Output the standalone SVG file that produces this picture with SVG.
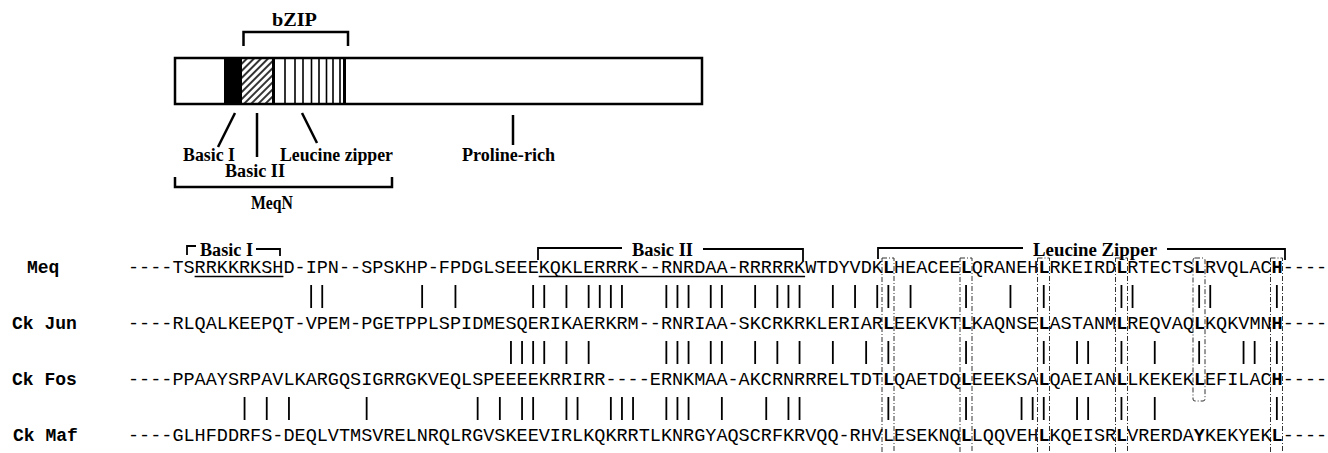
<svg xmlns="http://www.w3.org/2000/svg" width="1328" height="453" viewBox="0 0 1328 453">
<style>
.lbl{font-family:"Liberation Serif","Times New Roman",serif;font-weight:bold;font-size:18px;fill:#000}
.seq{font-family:"Liberation Mono","Courier New",monospace;font-size:18.5px;fill:#000}
.name{font-family:"Liberation Mono","Courier New",monospace;font-size:18px;font-weight:bold;fill:#000}
.b{font-weight:bold}
.ln{stroke:#000;stroke-width:2.5;fill:none}
.br{stroke:#000;stroke-width:1.8;fill:none}
.vl{stroke:#000;stroke-width:1.6}
.bar{stroke:#000;stroke-width:1.8;fill:none}
.hb{stroke:#333;stroke-width:1;fill:none;stroke-dasharray:5 2 1 2}
</style>
<defs>
<pattern id="hatch" patternUnits="userSpaceOnUse" width="5" height="5" patternTransform="rotate(45)">
<rect width="5" height="5" fill="#fff"/>
<line x1="1" y1="0" x2="1" y2="5" stroke="#000" stroke-width="1.6"/>
</pattern>
</defs>
<rect width="1328" height="453" fill="#fff"/>

<g id="protein">
<rect x="175" y="58" width="527" height="46" fill="#fff"/>
<rect x="224" y="58" width="18" height="46" fill="#000"/>
<rect x="242" y="58" width="30" height="46" fill="url(#hatch)"/>
<path class="vl" d="M285 58V104M295 58V104M303 58V104M311.5 58V104M319 58V104M326.5 58V104M333 58V104M340 58V104"/>
<path d="M273.5 58V104M344.5 58V104" stroke="#000" stroke-width="3"/>
<rect x="175" y="58" width="527" height="46" class="ln"/>
</g>

<g id="bzip">
<path class="ln" d="M243.5 46V32H348V46"/>
<text class="lbl" x="272" y="26" textLength="45" lengthAdjust="spacingAndGlyphs">bZIP</text>
</g>

<g id="basic1-label">
<path class="ln" d="M235 113L218 147"/>
<text class="lbl" x="183" y="161" textLength="52" lengthAdjust="spacingAndGlyphs">Basic I</text>
</g>
<g id="basic2-label">
<path class="ln" d="M257 113V157"/>
<text class="lbl" x="225" y="177" textLength="60" lengthAdjust="spacingAndGlyphs">Basic II</text>
</g>
<g id="zipper-label">
<path class="ln" d="M302 113L317 143"/>
<text class="lbl" x="280" y="161" textLength="113" lengthAdjust="spacingAndGlyphs">Leucine zipper</text>
</g>
<g id="proline-label">
<path class="ln" d="M513 115V145"/>
<text class="lbl" x="462" y="161" textLength="93" lengthAdjust="spacingAndGlyphs">Proline-rich</text>
</g>
<g id="meqn">
<path class="ln" d="M175 177V187H392V177"/>
<text class="lbl" x="251" y="209" textLength="42" lengthAdjust="spacingAndGlyphs">MeqN</text>
</g>

<g id="brackets">
<path class="br" d="M187 255V246H196"/>
<path class="br" d="M256 249H280V256"/>
<text class="lbl" x="200" y="256" textLength="53" lengthAdjust="spacingAndGlyphs">Basic I</text>
<path class="br" d="M538 260V248H622"/>
<path class="br" d="M703 249H803V261"/>
<text class="lbl" x="632" y="256" textLength="61" lengthAdjust="spacingAndGlyphs">Basic II</text>
<path class="br" d="M878 259V248H1023"/>
<path class="br" d="M1167 249H1285V260"/>
<text class="lbl" x="1033" y="256" textLength="124" lengthAdjust="spacingAndGlyphs">Leucine Zipper</text>
</g>

<g id="heptad-boxes">
<rect class="hb" x="882" y="258" width="12" height="210"/>
<rect class="hb" x="960" y="258" width="12" height="210"/>
<rect class="hb" x="1037.5" y="258" width="12" height="210"/>
<rect class="hb" x="1115.5" y="258" width="12" height="210"/>
<rect class="hb" x="1193" y="258" width="12" height="143" rx="2"/>
<rect class="hb" x="1270.5" y="258" width="12" height="210"/>
</g>

<g id="row-meq">
<text class="name" x="27" y="273">Meq</text>
<text class="seq" x="128" y="273">----TSRRKKRKSHD-IPN--SPSKHP-FPDGLSEEEKQKLERRRK--RNRDAA-RRRRRKWTDYVDK<tspan class="b">L</tspan>HEACEE<tspan class="b">L</tspan>QRANEH<tspan class="b">L</tspan>RKEIRD<tspan class="b">L</tspan>RTECTS<tspan class="b">L</tspan>RVQLAC<tspan class="b">H</tspan>----</text>
<path d="M194.6 276.5H283.4M538.7 276.5H805.1" stroke="#000" stroke-width="1.3"/>
</g>
<g id="row-jun">
<text class="name" x="12" y="329">Ck Jun</text>
<text class="seq" x="128" y="329">----RLQALKEEPQT-VPEM-PGETPPLSPIDMESQERIKAERKRM--RNRIAA-SKCRKRKLERIAR<tspan class="b">L</tspan>EEKVKT<tspan class="b">L</tspan>KAQNSE<tspan class="b">L</tspan>ASTANM<tspan class="b">L</tspan>REQVAQ<tspan class="b">L</tspan>KQKVMN<tspan class="b">H</tspan>----</text>
</g>
<g id="row-fos">
<text class="name" x="12" y="385">Ck Fos</text>
<text class="seq" x="128" y="385">----PPAAYSRPAVLKARGQSIGRRGKVEQLSPEEEEKRRIRR----ERNKMAA-AKCRNRRRELTDT<tspan class="b">L</tspan>QAETDQ<tspan class="b">L</tspan>EEEKSA<tspan class="b">L</tspan>QAEIAN<tspan class="b">L</tspan>LKEKEK<tspan class="b">L</tspan>EFILAC<tspan class="b">H</tspan>----</text>
</g>
<g id="row-maf">
<text class="name" x="13" y="441">Ck Maf</text>
<text class="seq" x="128" y="441">----GLHFDDRFS-DEQLVTMSVRELNRQLRGVSKEEVIRLKQKRRTLKNRGYAQSCRFKRVQQ-RHVLESEKNQ<tspan class="b">L</tspan>LQQVEH<tspan class="b">L</tspan>KQEISR<tspan class="b">L</tspan>VRERDA<tspan class="b">Y</tspan>KEKYEK<tspan class="b">L</tspan>----</text>
</g>

<g id="connectors">
<path class="bar" d="M311.15 285V308M322.25 285V308M422.15 285V308M455.45 285V308M533.15 285V308M544.25 285V308M566.45 285V308M588.65 285V308M599.75 285V308M610.85 285V308M621.95 285V308M666.35 285V308M677.45 285V308M688.55 285V308M710.75 285V308M721.85 285V308M755.15 285V308M777.35 285V308M788.45 285V308M799.55 285V308M832.85 285V308M855.05 285V308M877.25 285V308M888.35 285V308M910.55 285V308M966.05 285V308M1010.45 285V308M1043.75 285V308M1121.45 285V308M1132.55 285V308M1199.15 285V308M1210.25 285V308M1276.85 285V308"/>
<path class="bar" d="M510.95 341V364M522.05 341V364M533.15 341V364M544.25 341V364M566.45 341V364M588.65 341V364M666.35 341V364M677.45 341V364M688.55 341V364M710.75 341V364M721.85 341V364M755.15 341V364M777.35 341V364M799.55 341V364M832.85 341V364M866.15 341V364M888.35 341V364M966.05 341V364M1043.75 341V364M1077.05 341V364M1088.15 341V364M1121.45 341V364M1154.75 341V364M1199.15 341V364M1243.55 341V364M1254.65 341V364M1276.85 341V364"/>
<path class="bar" d="M244.55 397V420M266.75 397V420M288.95 397V420M366.65 397V420M477.65 397V420M499.85 397V420M522.05 397V420M533.15 397V420M566.45 397V420M577.55 397V420M610.85 397V420M621.95 397V420M633.05 397V420M666.35 397V420M677.45 397V420M688.55 397V420M721.85 397V420M766.25 397V420M788.45 397V420M799.55 397V420M888.35 397V420M966.05 397V420M1021.55 397V420M1032.65 397V420M1043.75 397V420M1077.05 397V420M1088.15 397V420M1121.45 397V420M1154.75 397V420M1276.85 397V420"/>
</g>
</svg>
